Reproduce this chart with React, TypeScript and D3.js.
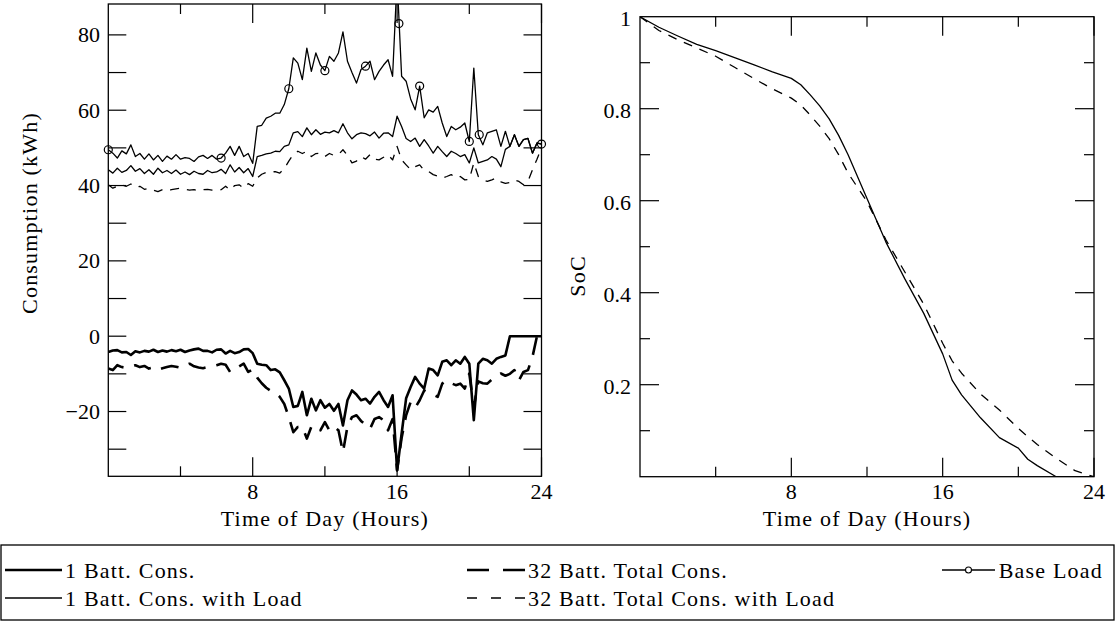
import React from 'react';
import * as d3 from 'd3';

// ---------- data ----------
const STEP_HOURS = 0.25; // one sample every 15 minutes, 0..24 h

const baseLoad = [
  49.5, 48.6, 47.3, 49.2, 48.4, 50.8, 47.7, 48.5, 47.0, 48.4, 46.8, 48.0,
  46.4, 47.8, 47.0, 48.2, 47.0, 47.4, 47.2, 46.4, 47.6, 48.0, 47.2, 48.0,
  47.0, 47.3, 48.6, 50.4, 48.0, 50.4, 47.7, 48.5, 45.9, 55.7, 56.0, 57.9,
  58.4, 59.2, 59.2, 61.5, 65.7, 73.9, 72.5, 68.1, 76.5, 70.3, 75.2, 72.0,
  70.5, 74.3, 73.0, 75.2, 80.8, 73.0, 70.0, 67.2, 70.8, 71.7, 73.0, 68.1,
  70.3, 72.0, 73.4, 69.0, 95.0, 69.0, 67.7, 63.0, 60.1, 66.4, 58.0, 60.1,
  59.5, 61.0, 56.6, 53.0, 55.7, 54.8, 55.5, 56.6, 51.7, 71.2, 53.5, 50.8,
  54.0, 54.4, 54.8, 50.4, 54.4, 50.4, 53.5, 50.4, 52.2, 52.5, 48.6, 51.3,
  51.0,
];

const oneBattWithLoad = [
  44.2, 43.3, 44.6, 43.5, 44.0, 45.3, 43.8, 44.5, 43.2, 44.2, 43.0, 44.6,
  43.4, 44.0, 43.2, 44.1, 43.0, 43.6, 42.9, 43.8, 43.2, 43.0, 44.0, 43.4,
  43.6, 44.3, 43.2, 45.5, 43.6, 44.8, 43.4, 44.5, 42.4, 47.7, 48.0, 48.4,
  48.6, 49.1, 49.0, 50.4, 50.8, 54.0, 54.3, 53.0, 55.3, 53.5, 54.8, 53.6,
  54.2, 54.0, 54.6, 54.0, 56.4, 54.0, 52.4, 53.5, 54.0, 53.8, 53.2, 54.2,
  52.6, 53.9, 54.0, 53.0, 58.4, 55.7, 52.5, 51.7, 52.6, 50.4, 52.2, 50.5,
  48.6, 50.4, 49.0, 47.7, 49.1, 48.5, 47.7, 48.2, 46.0, 50.0, 46.0, 46.4,
  46.8, 47.7, 47.0, 45.0, 49.6, 50.4, 53.5, 50.4, 52.2, 52.5, 48.6, 51.3,
  51.0,
];

const thirtyTwoWithLoad = [
  40.2, 39.3, 39.8, 40.2, 39.8, 40.4, 39.5, 39.8, 39.0, 39.3, 38.8, 38.4,
  38.9, 38.6, 38.9, 39.1, 39.3, 39.0, 38.8, 38.9, 38.6, 38.9, 39.0, 38.8,
  38.7, 38.9, 39.8, 38.8, 40.0, 40.2, 39.3, 40.5, 39.8, 42.0, 43.0, 43.5,
  43.6, 43.7, 43.3, 44.5, 46.5, 48.2, 49.1, 48.5, 49.1, 47.7, 48.5, 48.6,
  47.7, 48.5, 48.0, 48.2, 49.5, 48.0, 46.0, 46.5, 47.7, 47.0, 48.2, 47.0,
  46.8, 47.5, 48.2, 46.8, 50.4, 46.8, 45.5, 44.2, 45.0, 45.5, 44.0, 43.7,
  42.9, 42.5, 42.0, 42.4, 42.9, 42.0, 42.4, 41.5, 41.6, 46.0, 42.4, 41.5,
  41.1, 41.5, 42.0, 41.0, 40.6, 40.8, 41.5, 41.1, 40.2, 41.1, 44.2, 47.0,
  50.0,
];

const oneBattCons = [
  -4.2, -3.8, -3.7, -4.3, -4.2, -5.0, -4.0, -4.3, -3.9, -4.1, -3.6, -4.2,
  -3.8, -4.1, -3.7, -4.0, -3.6, -4.2, -3.8, -3.5, -3.3, -3.9, -3.9, -4.3,
  -3.6, -3.5, -4.6, -3.9, -4.5, -4.2, -3.5, -3.4, -4.5, -7.3, -7.6, -7.7,
  -9.0, -8.8, -9.6, -11.7, -13.9, -18.8, -18.5, -14.8, -21.0, -16.6, -19.7, -17.0,
  -19.0, -18.0, -19.8, -18.0, -23.7, -17.0, -14.4, -15.5, -17.0, -16.6, -17.9, -16.1,
  -14.8, -17.0, -18.8, -15.7, -35.6, -25.9, -16.5, -13.5, -10.8, -12.6, -13.9, -8.6,
  -9.0, -10.4, -6.8, -6.4, -7.7, -6.4, -7.3, -5.5, -7.3, -22.3, -7.3, -6.0,
  -6.4, -7.3, -6.0, -5.5, -5.1, 0, 0, 0, 0, 0, 0, 0,
  0,
];

const thirtyTwoCons = [
  -8.6, -9.0, -7.7, -8.2, -8.4, -8.0, -7.7, -8.2, -7.9, -8.6, -8.3, -8.9,
  -8.5, -8.2, -7.9, -8.1, -8.4, -7.8, -7.3, -8.0, -8.3, -8.5, -8.2, -8.0,
  -7.7, -7.3, -7.6, -9.5, -8.5, -8.0, -7.3, -9.5, -8.8, -11.0, -12.5, -13.7,
  -14.5, -15.0, -16.1, -18.0, -21.5, -25.5, -24.1, -24.0, -27.2, -24.0, -23.8, -25.0,
  -22.8, -25.0, -24.0, -25.0, -30.8, -24.0, -21.5, -21.0, -22.5, -23.5, -24.6, -22.0,
  -21.5, -22.3, -25.0, -22.0, -35.6, -27.0, -21.0, -17.5, -19.0, -17.0, -14.4, -15.0,
  -15.5, -16.1, -12.6, -11.7, -12.5, -13.0, -12.6, -13.9, -9.9, -18.8, -12.0, -12.5,
  -12.6, -11.5, -10.5, -9.9, -10.5, -10.0, -9.0, -11.7, -9.5, -9.0, -5.5, 0,
  0,
];

const baseLoadMarkTimes = [0, 6.25, 10.0, 12.0, 14.25, 16.1, 17.25, 20.0, 20.55, 24];
const baseLoadMarkValues = [49.5, 47.3, 65.7, 70.5, 71.7, 83.0, 66.4, 51.7, 53.5, 51.0];

const socTimes = [0, 1, 2, 3, 4, 5, 6, 7, 8, 8.5, 9, 9.5, 10, 10.5, 11, 12, 13, 14, 15, 16, 16.5, 17, 18, 19, 20, 20.5, 21, 22, 23, 24];
const socOneBatt = [1.0, 0.977, 0.958, 0.94, 0.926, 0.911, 0.896, 0.88, 0.866, 0.852, 0.83, 0.806, 0.778, 0.742, 0.7, 0.605, 0.51, 0.43, 0.355, 0.267, 0.21, 0.178, 0.128, 0.085, 0.062, 0.038, 0.024, 0.0, 0.0, 0.0];
const socThirtyTwo = [1.0, 0.97, 0.95, 0.932, 0.914, 0.89, 0.866, 0.843, 0.823, 0.808, 0.786, 0.762, 0.735, 0.7, 0.66, 0.598, 0.515, 0.445, 0.375, 0.29, 0.252, 0.225, 0.18, 0.145, 0.105, 0.087, 0.07, 0.04, 0.013, 0.0];

const xTicks = [4, 8, 12, 16, 20, 24];
const xTickLabels = [8, 16, 24];
const leftYTicks = [-30, -20, -10, 0, 10, 20, 30, 40, 50, 60, 70, 80];
const leftYLabels = [-20, 0, 20, 40, 60, 80];
const rightYTicks = [0.1, 0.2, 0.3, 0.4, 0.5, 0.6, 0.7, 0.8, 0.9];
const rightYLabels = [0.2, 0.4, 0.6, 0.8, 1];

const xTitle = 'Time of Day (Hours)';
const leftYTitle = 'Consumption (kWh)';
const rightYTitle = 'SoC';
const legendLabels = [
  '1 Batt. Cons.',
  '32 Batt. Total Cons.',
  'Base Load',
  '1 Batt. Cons. with Load',
  '32 Batt. Total Cons. with Load',
];

// ---------- styling ----------
const FONT = '"Liberation Serif", "DejaVu Serif", serif';
const FS = 22;
const THIN = 1.3;
const THICK = 2.6;
const THIN_DASH = '9 8';
const THICK_DASH = '18 11';

const fmtMinus = (v: number) => (v < 0 ? '\u2212' + Math.abs(v) : String(v));

export default function App() {
  const L = { x0: 108.3, x1: 541.5, y0: 4, y1: 476.3 };
  const R = { x0: 640, x1: 1094, y0: 16.7, y1: 476.7 };

  const xL = d3.scaleLinear().domain([0, 24]).range([L.x0, L.x1]);
  const yL = d3.scaleLinear().domain([-37.2, 88.2]).range([L.y1, L.y0]);
  const xR = d3.scaleLinear().domain([0, 24]).range([R.x0, R.x1]);
  const yR = d3.scaleLinear().domain([0, 1]).range([R.y1, R.y0]);

  const lineL = d3
    .line<number>()
    .x((_, i) => xL(i * STEP_HOURS))
    .y((d) => yL(d));
  const lineSoC = (vals: number[]) =>
    d3
      .line<number>()
      .x((_, i) => xR(socTimes[i]))
      .y((d) => yR(d))(vals) || '';

  const MAJ = 19;
  const MIN = 10;

  const frame = (P: typeof L) => (
    <rect x={P.x0} y={P.y0} width={P.x1 - P.x0} height={P.y1 - P.y0} fill="none" stroke="#000" strokeWidth={1.3} />
  );

  const xTickMarks = (P: typeof L, xs: d3.ScaleLinear<number, number>) =>
    xTicks.map((t) => {
      const len = t % 8 === 0 ? MAJ : MIN;
      const x = xs(t);
      return (
        <g key={'xt' + t}>
          <line x1={x} x2={x} y1={P.y1} y2={P.y1 - len} stroke="#000" strokeWidth={1.2} />
          <line x1={x} x2={x} y1={P.y0} y2={P.y0 + len} stroke="#000" strokeWidth={1.2} />
        </g>
      );
    });

  const textStyle = { fontFamily: FONT, fontSize: FS } as React.CSSProperties;
  const wideStyle = { fontFamily: FONT, fontSize: FS, letterSpacing: '1.2px' } as React.CSSProperties;

  const xLabels = (xs: d3.ScaleLinear<number, number>) =>
    xTickLabels.map((t) => (
      <text key={'xl' + t} x={xs(t)} y={499} textAnchor="middle" style={textStyle}>
        {t}
      </text>
    ));

  const marks = baseLoadMarkTimes.map((t, i) => [xL(t), yL(baseLoadMarkValues[i])]);

  const row1 = 570;
  const row2 = 598;
  const tOff = 7.5;

  return (
    <svg
      width={1116}
      height={626}
      style={{ position: 'absolute', left: 0, top: 0, background: '#fff', fontFamily: FONT }}
      fill="#000"
    >
      <defs>
        <clipPath id="clipL">
          <rect x={L.x0} y={L.y0} width={L.x1 - L.x0} height={L.y1 - L.y0} />
        </clipPath>
        <clipPath id="clipR">
          <rect x={R.x0} y={R.y0} width={R.x1 - R.x0} height={R.y1 - R.y0} />
        </clipPath>
      </defs>

      {/* ---------- left panel ---------- */}
      <g clipPath="url(#clipL)" fill="none" stroke="#000" strokeLinejoin="round">
        <path d={lineL(thirtyTwoWithLoad) || ''} strokeWidth={THIN} strokeDasharray={THIN_DASH} />
        <path d={lineL(oneBattWithLoad) || ''} strokeWidth={THIN} />
        <path d={lineL(baseLoad) || ''} strokeWidth={THIN} />
        <path d={lineL(thirtyTwoCons) || ''} strokeWidth={THICK} strokeDasharray={THICK_DASH} />
        <path d={lineL(oneBattCons) || ''} strokeWidth={THICK} />
      </g>
      {marks.map(([x, y], i) => (
        <circle key={'m' + i} cx={x} cy={y} r={4} fill="none" stroke="#000" strokeWidth={1.2} />
      ))}
      {frame(L)}
      {xTickMarks(L, xL)}
      {leftYTicks.map((v) => (
        <g key={'ly' + v}>
          <line x1={L.x0} x2={L.x0 + 18} y1={yL(v)} y2={yL(v)} stroke="#000" strokeWidth={1.2} />
          <line x1={L.x1} x2={L.x1 - 18} y1={yL(v)} y2={yL(v)} stroke="#000" strokeWidth={1.2} />
        </g>
      ))}
      {leftYLabels.map((v) => (
        <text key={'lyl' + v} x={100} y={yL(v) + tOff} textAnchor="end" style={textStyle}>
          {fmtMinus(v)}
        </text>
      ))}
      {xLabels(xL)}
      <text x={(L.x0 + L.x1) / 2} y={526} textAnchor="middle" style={wideStyle}>
        {xTitle}
      </text>
      <text transform={`translate(37, 213) rotate(-90)`} textAnchor="middle" style={wideStyle}>
        {leftYTitle}
      </text>

      {/* ---------- right panel ---------- */}
      <g clipPath="url(#clipR)" fill="none" stroke="#000" strokeLinejoin="round">
        <path d={lineSoC(socThirtyTwo)} strokeWidth={THIN} strokeDasharray={THIN_DASH} />
        <path d={lineSoC(socOneBatt)} strokeWidth={THIN} />
      </g>
      {frame(R)}
      {xTickMarks(R, xR)}
      {rightYTicks.map((v) => {
        const len = Math.round(v * 10) % 2 === 0 ? MAJ : MIN;
        return (
          <g key={'ry' + v}>
            <line x1={R.x0} x2={R.x0 + len} y1={yR(v)} y2={yR(v)} stroke="#000" strokeWidth={1.2} />
            <line x1={R.x1} x2={R.x1 - len} y1={yR(v)} y2={yR(v)} stroke="#000" strokeWidth={1.2} />
          </g>
        );
      })}
      {rightYLabels.map((v) => (
        <text key={'ryl' + v} x={631} y={yR(v) + tOff + 2} textAnchor="end" style={textStyle}>
          {String(v)}
        </text>
      ))}
      {xLabels(xR)}
      <text x={(R.x0 + R.x1) / 2} y={526} textAnchor="middle" style={wideStyle}>
        {xTitle}
      </text>
      <text transform={`translate(585, 276) rotate(-90)`} textAnchor="middle" style={wideStyle}>
        {rightYTitle}
      </text>

      {/* ---------- legend ---------- */}
      <rect x={1} y={545} width={1113} height={75} fill="none" stroke="#000" strokeWidth={1.3} />
      <g fill="none" stroke="#000">
        <line x1={5} x2={62} y1={row1} y2={row1} strokeWidth={THICK} />
        <line x1={467} x2={525} y1={row1} y2={row1} strokeWidth={THICK} strokeDasharray="22 14" />
        <line x1={942} x2={995} y1={row1} y2={row1} strokeWidth={THIN} />
        <circle cx={968.5} cy={row1} r={3} fill="#fff" strokeWidth={1.1} />
        <line x1={5} x2={62} y1={row2} y2={row2} strokeWidth={THIN} />
        <line x1={467} x2={525} y1={row2} y2={row2} strokeWidth={THIN} strokeDasharray="10 14" />
      </g>
      <text x={65} y={row1 + tOff} style={wideStyle}>{legendLabels[0]}</text>
      <text x={528} y={row1 + tOff} style={wideStyle}>{legendLabels[1]}</text>
      <text x={1103} y={row1 + tOff} textAnchor="end" style={wideStyle}>{legendLabels[2]}</text>
      <text x={65} y={row2 + tOff} style={wideStyle}>{legendLabels[3]}</text>
      <text x={528} y={row2 + tOff} style={wideStyle}>{legendLabels[4]}</text>
    </svg>
  );
}
